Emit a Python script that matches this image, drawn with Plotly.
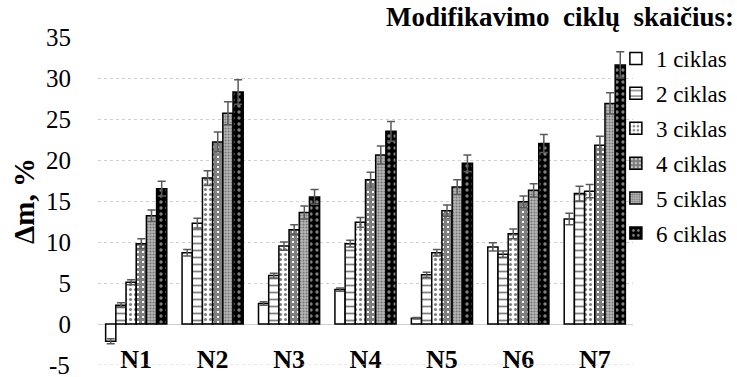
import plotly.graph_objects as go

# kategorijos ir reikšmės (nuskaityta nuo paveikslo)
kategorijos = ["N1", "N2", "N3", "N4", "N5", "N6", "N7"]
serijos = ["1 ciklas", "2 ciklas", "3 ciklas", "4 ciklas", "5 ciklas", "6 ciklas"]

c1 = [-2.1, 8.7, 2.5, 4.2, 0.7, 9.4, 12.8]
c2 = [2.3, 12.3, 5.9, 9.8, 6.0, 8.5, 15.9]
c3 = [5.1, 17.8, 9.5, 12.4, 8.7, 11.0, 16.2]
c4 = [9.8, 22.2, 11.5, 17.6, 13.8, 14.9, 21.8]
c5 = [13.2, 25.7, 13.6, 20.6, 16.7, 16.3, 26.9]
c6 = [16.5, 28.3, 15.5, 23.5, 19.6, 22.0, 31.6]

e1 = [0.3, 0.4, 0.2, 0.2, 0.1, 0.5, 0.7]
e2 = [0.3, 0.6, 0.3, 0.4, 0.3, 0.4, 0.9]
e3 = [0.3, 0.9, 0.5, 0.6, 0.4, 0.6, 0.8]
e4 = [0.6, 1.2, 0.6, 0.9, 0.7, 0.7, 1.1]
e5 = [0.7, 1.4, 0.8, 1.1, 0.9, 0.8, 1.3]
e6 = [0.9, 1.5, 0.9, 1.2, 1.0, 1.1, 1.6]

y_ticks = [0, 5, 10, 15, 20, 25, 30, 35]
y_min = -5

reiksmes = [c1, c2, c3, c4, c5, c6]
paklaidos = [e1, e2, e3, e4, e5, e6]

# raštai kiekvienai serijai
rastai = [
    dict(shape="", bgcolor="white"),
    dict(shape="-", fgcolor="black", bgcolor="white", size=7, solidity=0.25),
    dict(shape=".", fgcolor="black", bgcolor="white", size=5, solidity=0.3),
    dict(shape="+", fgcolor="black", bgcolor="white", size=5, solidity=0.85),
    dict(shape=".", fgcolor="#303030", bgcolor="#b8b8b8", size=3, solidity=0.4),
    dict(shape=".", fgcolor="white", bgcolor="black", size=6, solidity=0.25),
]

fnt = "Liberation Serif"

fig = go.Figure()
for i, vardas in enumerate(serijos):
    fig.add_trace(go.Bar(
        x=kategorijos, y=reiksmes[i], name=vardas,
        legendgroup=vardas,
        marker=dict(color=rastai[i]["bgcolor"], line=dict(color="black", width=1.5),
                    pattern=dict(fillmode="overlay", **rastai[i])),
        error_y=dict(type="data", array=paklaidos[i], color="#595959",
                     thickness=1.5, width=4),
    ))

fig.update_layout(
    width=737, height=377,
    margin=dict(l=98, r=104, t=37, b=12, autoexpand=False),
    paper_bgcolor="white", plot_bgcolor="white",
    barmode="group", bargap=0.2, bargroupgap=0,
    font=dict(family=fnt, size=20, color="black"),
    showlegend=True,
    legend=dict(x=0.968, y=1.0, xanchor="left", yanchor="top",
                font=dict(size=23, family=fnt), tracegroupgap=2, traceorder="grouped",
                itemwidth=30, bgcolor="rgba(0,0,0,0)"),
    annotations=[
        dict(text="<b>Modifikavimo&nbsp; ciklų&nbsp; skaičius:</b>",
             x=(736 - 98) / (737 - 98 - 104), y=1 + (37 - 17) / 328,
             xref="paper", yref="paper", xanchor="right", yanchor="middle",
             showarrow=False, font=dict(size=27, family=fnt)),
        # apatinė skalės žymė (plotly ją paslepia ties kraštu)
        dict(text=str(y_min), x=-26 / 535, y=y_min, xref="paper", yref="y",
             xanchor="right", yanchor="middle", showarrow=False,
             font=dict(size=25, family=fnt)),
    ],
)

# kategorijų užrašai virš apatinės ašies (kaip Excel'yje, prie nulio linijos)
fig.update_xaxes(
    automargin=False,
    showline=False, showgrid=False, ticks="", ticklabelstandoff=-24,
    tickfont=dict(size=26, family=fnt),
    tickprefix="<b>", ticksuffix="</b>",
)
fig.update_yaxes(
    range=[y_min, 35], tickvals=y_ticks, automargin=False,
    showgrid=True, gridcolor="#d0d0d0", griddash="dot", gridwidth=1,
    zeroline=True, zerolinecolor="#d0d0d0", zerolinewidth=1,
    showline=False, ticks="", ticklabelstandoff=26,
    tickfont=dict(size=25, family=fnt),
    title=dict(text="<b>Δm, %</b>", font=dict(size=29, family=fnt), standoff=2),
)
fig.add_hline(y=y_min, line=dict(color="#d0d0d0", width=1, dash="dot"))

fig.write_html("out.html", post_script="document.body.style.margin='0';",
               config={"displayModeBar": False})
